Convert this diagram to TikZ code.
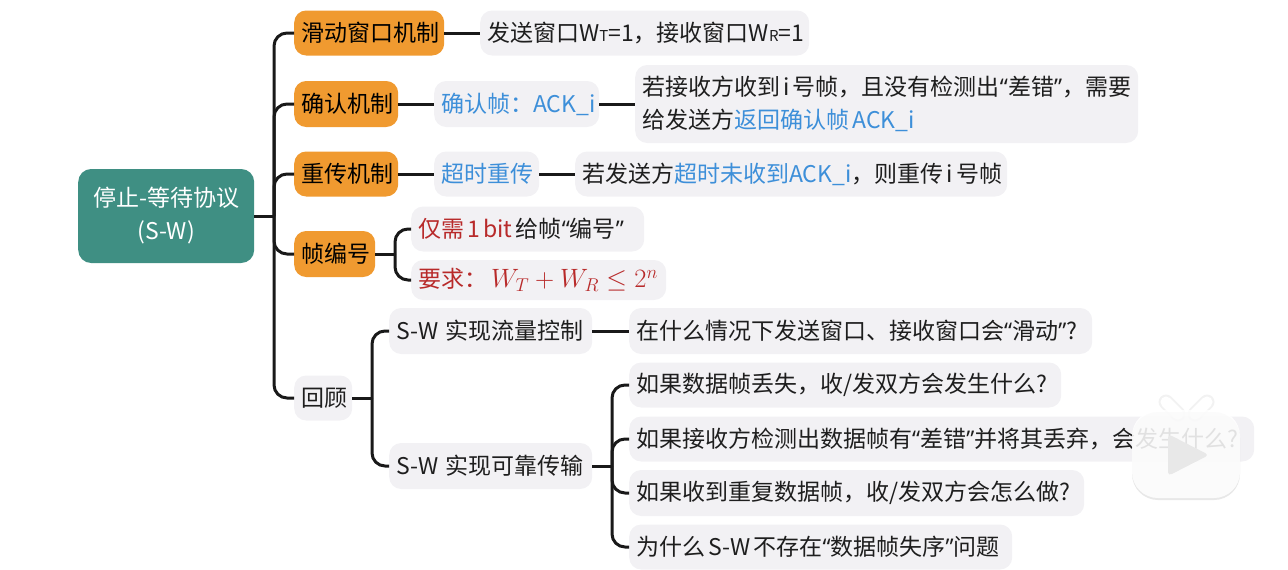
\documentclass[tikz,border=0pt]{standalone}
\usepackage{fix-cm}
\usepackage{amsmath}
\usepackage{fontspec}
\setmainfont{Noto Sans CJK SC}
\newfontfamily\latinq{Open Sans}
\usetikzlibrary{shadows}
\definecolor{cteal}{HTML}{3F8F83}
\definecolor{corange}{HTML}{F09A30}
\definecolor{cgray}{HTML}{F2F1F4}
\definecolor{cblue}{HTML}{3D8FD9}
\definecolor{cred}{HTML}{B82A2A}
\definecolor{cink}{HTML}{1E1E1E}
\newcommand{\qo}{{\latinq “}}
\newcommand{\qc}{{\latinq ”}}
\newcommand{\subs}[1]{{\fontsize{15}{15}\selectfont #1}}
\newcommand{\bl}[1]{\textcolor{cblue}{#1}}
\newcommand{\rd}[1]{\textcolor{cred}{#1}}
\newcommand{\tight}[1]{\mbox{\spaceskip=.14em\relax #1}}
\tikzset{
  base/.style={rounded corners=12pt,inner ysep=0pt,inner xsep=7pt,anchor=west,text=cink,align=left,
    font=\fontsize{23}{33}\selectfont},
  wd/.code={\pgfmathsetmacro\tw{#1-14}\tikzset{text width=\tw pt,minimum width=#1pt}},
  graybox/.style={base,fill=cgray},
  orangebox/.style={base,fill=corange,text=black},
  rootbox/.style={base,fill=cteal,text=white,align=center,rounded corners=13pt,inner xsep=0pt},
  link/.style={line width=3pt,color=black!90,rounded corners=13pt},
  stub/.style={line width=3pt,color=black!90}
}
\begin{document}
\begin{tikzpicture}[x=1pt,y=-1pt]
\useasboundingbox (0,0) rectangle (1288,570);
\node[rootbox,minimum width=176pt,minimum height=94pt] (root) at (78,216) {停止-等待协议\\(S-W)};
\node[orangebox,wd=150,minimum height=45pt] (a1) at (294,33) {滑动窗口机制};
\node[orangebox,wd=104,minimum height=46pt] (a2) at (294,104) {确认机制};
\node[orangebox,wd=104,minimum height=45pt] (a3) at (294,174) {重传机制};
\node[orangebox,wd=81,minimum height=46pt] (a4) at (294,254) {帧编号};
\node[graybox,wd=58,minimum height=45pt] (a5) at (294,398) {回顾};
\node[graybox,wd=329,minimum height=45pt] (b1) at (480,33) {\mbox{发送窗口W\subs{T}=1，接收窗口W\subs{R}=1}};
\node[graybox,wd=165,minimum height=46pt] (b2) at (434,104) {\mbox{\bl{确认帧：ACK\_i}}};
\node[graybox,wd=503,minimum height=78pt] (c2) at (635,104) {\tight{若接收方收到 i 号帧，且没有检测出\qo 差错\qc ，需要}\\\tight{给发送方\bl{返回确认帧 ACK\_i}}};
\node[graybox,wd=105,minimum height=45pt] (b3) at (434,174) {\bl{超时重传}};
\node[graybox,wd=432,minimum height=45pt] (c3) at (575,174) {\tight{若发送方\bl{超时未收到ACK\_i}，则重传 i 号帧}};
\node[graybox,wd=233,minimum height=45pt] (b4) at (411,229) {\tight{\rd{仅需 1 bit} 给帧\qo 编号\qc}};
\node[graybox,wd=255,minimum height=40pt] (b5) at (411,280) {\mbox{\rd{要求：\,{\fontsize{26.5}{33}\selectfont $W_T+W_R\leq 2^n$}}}};
\node[graybox,wd=203,minimum height=46pt] (d1) at (389,331) {\mbox{S-W 实现流量控制}};
\node[graybox,wd=203,minimum height=46pt] (d2) at (389,466) {\mbox{S-W 实现可靠传输}};
\node[graybox,wd=463,minimum height=46pt] (e1) at (629,331) {\mbox{在什么情况下发送窗口、接收窗口会\qo 滑动\qc ?}};
\node[graybox,wd=432,minimum height=45pt] (f1) at (629,385) {\mbox{如果数据帧丢失，收/发双方会发生什么?}};
\node[graybox,wd=625,minimum height=45pt] (f2) at (629,439) {\mbox{如果接收方检测出数据帧有\qo 差错\qc 并将其丢弃，会发生什么?}};
\node[graybox,wd=455,minimum height=46pt] (f3) at (629,493) {\mbox{如果收到重复数据帧，收/发双方会怎么做?}};
\node[graybox,wd=383,minimum height=45pt] (f4) at (629,547) {\tight{为什么 S-W 不存在\qo 数据帧失序\qc 问题}};
% connectors
\coordinate (t0) at (274,216);
\draw[stub] (root.east) -- (t0);
\foreach \n in {a1,a2,a3,a4,a5}{\draw[link] (t0) |- (\n.west);}
\draw[stub] (a1.east) -- (b1.west);
\draw[stub] (a2.east) -- (b2.west);
\draw[stub] (b2.east) -- (b2.east-|c2.west);
\draw[stub] (a3.east) -- (b3.west);
\draw[stub] (b3.east) -- (c3.west);
\coordinate (t4) at (395,254);
\draw[stub] (a4.east) -- (t4);
\foreach \n in {b4,b5}{\draw[link] (t4) |- (\n.west);}
\coordinate (t5) at (372,398);
\draw[stub] (a5.east) -- (t5);
\foreach \n in {d1,d2}{\draw[link] (t5) |- (\n.west);}
\draw[stub] (d1.east) -- (e1.west);
\coordinate (t6) at (612,466);
\draw[stub] (d2.east) -- (t6);
\foreach \n in {f1,f2,f3,f4}{\draw[link] (t6) |- (\n.west);}
% video logo overlay
\draw[black,opacity=.05,line width=15pt,line cap=round] (1166,402) -- (1178,414);
\draw[black,opacity=.05,line width=15pt,line cap=round] (1207,402) -- (1195,414);
\draw[white,line width=11pt,line cap=round] (1166,402) -- (1178,414);
\draw[white,line width=11pt,line cap=round] (1207,402) -- (1195,414);
\fill[white,fill opacity=.86,rounded corners=26pt,drop shadow={opacity=.18,shadow xshift=0pt,shadow yshift=-2pt}] (1132,410) rectangle (1240,498);
\fill[black!9,rounded corners=4pt] (1168,434) -- (1209,455) -- (1168,476) -- cycle;
\end{tikzpicture}
\end{document}
